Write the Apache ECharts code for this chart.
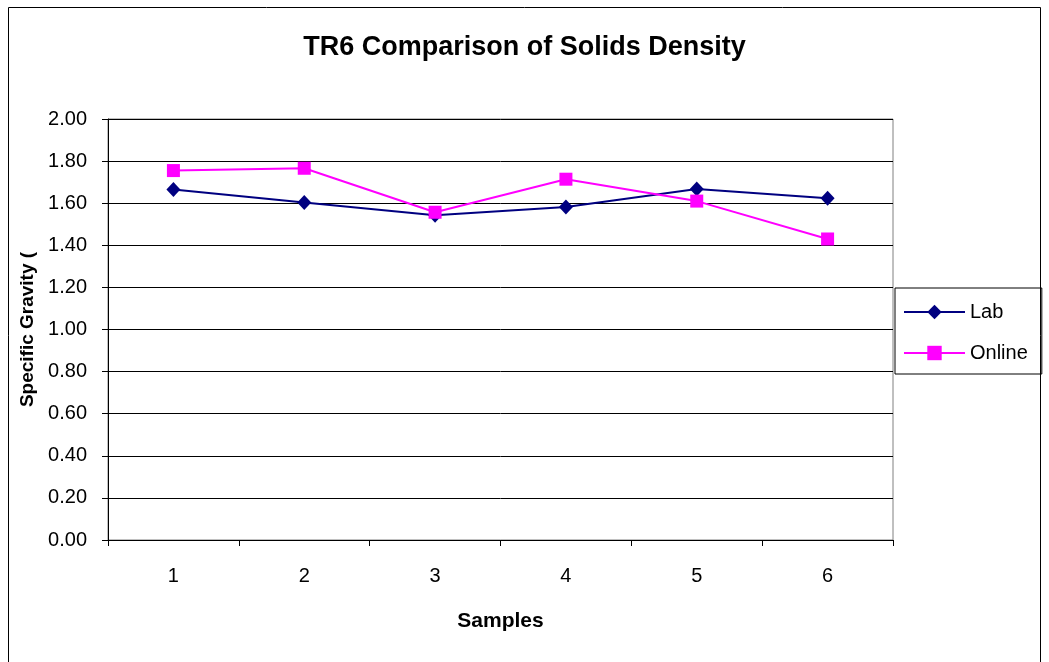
<!DOCTYPE html>
<html>
<head>
<meta charset="utf-8">
<script src="https://cdn.jsdelivr.net/npm/echarts@6/dist/echarts.min.js"></script>
<style>
  html, body { margin: 0; padding: 0; background: #fff; }
  #chart { width: 1049px; height: 662px; }
</style>
</head>
<body>
<div id="chart"></div>
<script>
// Sample numbers along the x axis
const samples = ['1', '2', '3', '4', '5', '6'];
// Specific gravity measured in the lab
const labValues = [1.665, 1.603, 1.543, 1.582, 1.667, 1.623];
// Specific gravity from the online instrument
const onlineValues = [1.755, 1.766, 1.557, 1.714, 1.610, 1.430];

const FONT = '"Liberation Sans", Arial, sans-serif';

const chart = echarts.init(document.getElementById('chart'), null, { renderer: 'canvas' });

chart.setOption({
  backgroundColor: '#ffffff',
  animation: false,
  title: {
    text: 'TR6 Comparison of Solids Density',
    left: 'center',
    top: 29,
    textStyle: { fontFamily: FONT, fontSize: 27, fontWeight: 'bold', color: '#000' }
  },
  graphic: [{
    type: 'rect',
    shape: { x: 8.5, y: 7.5, width: 1032, height: 700 },
    style: { fill: 'none', stroke: '#000', lineWidth: 1 },
    silent: true
  }],
  legend: {
    orient: 'vertical',
    left: 895,
    top: 288,
    padding: [14, 14, 11, 8],
    itemGap: 21,
    itemWidth: 61,
    itemHeight: 18,
    borderColor: '#000',
    borderWidth: 1,
    textStyle: { fontFamily: FONT, fontSize: 20, color: '#000' },
    data: ['Lab', 'Online']
  },
  grid: {
    left: 108,
    right: 156,
    top: 119,
    bottom: 122,
    show: true,
    borderColor: '#808080',
    borderWidth: 1,
    backgroundColor: 'transparent'
  },
  xAxis: {
    type: 'category',
    data: samples,
    boundaryGap: true,
    name: 'Samples',
    nameLocation: 'middle',
    nameGap: 71,
    nameTextStyle: { fontFamily: FONT, fontSize: 21, fontWeight: 'bold', color: '#000' },
    axisLine: { lineStyle: { color: '#000', width: 1 } },
    axisTick: { show: true, length: 6, alignWithLabel: false, lineStyle: { color: '#000' } },
    axisLabel: { margin: 26, fontFamily: FONT, fontSize: 20, color: '#000' },
    splitLine: { show: false }
  },
  yAxis: {
    type: 'value',
    min: 0,
    max: 2,
    interval: 0.2,
    name: 'Specific Gravity (',
    nameLocation: 'middle',
    nameGap: 71,
    nameTextStyle: { fontFamily: FONT, fontSize: 19, fontWeight: 'bold', color: '#000' },
    axisLine: { show: true, lineStyle: { color: '#000', width: 1 } },
    axisTick: { show: true, length: 6, lineStyle: { color: '#000' } },
    axisLabel: {
      margin: 21,
      fontFamily: FONT,
      fontSize: 20,
      color: '#000',
      formatter: v => v.toFixed(2)
    },
    splitLine: { show: true, lineStyle: { color: '#000', width: 1 } }
  },
  series: [
    {
      name: 'Lab',
      type: 'line',
      data: labValues,
      symbol: 'diamond',
      symbolSize: [14, 15],
      lineStyle: { color: '#000080', width: 2 },
      itemStyle: { color: '#000080' }
    },
    {
      name: 'Online',
      type: 'line',
      data: onlineValues,
      symbol: 'rect',
      symbolSize: 13,
      lineStyle: { color: '#ff00ff', width: 2 },
      itemStyle: { color: '#ff00ff' }
    }
  ]
});
</script>
</body>
</html>
